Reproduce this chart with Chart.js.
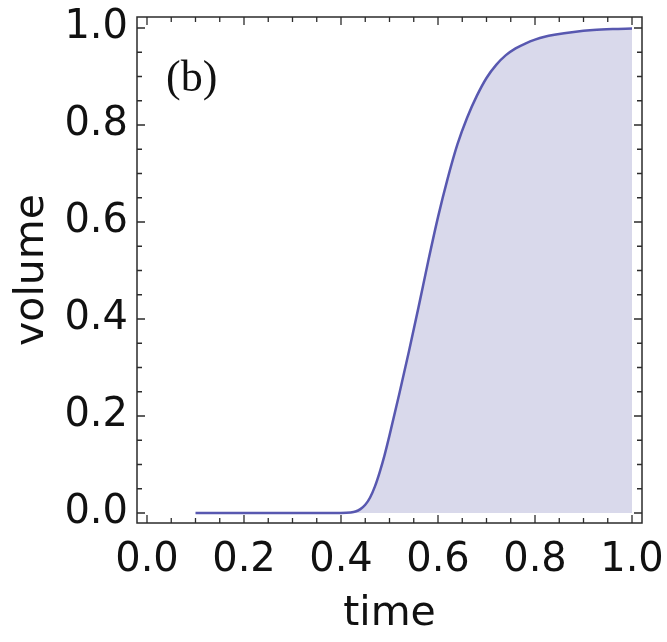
<!DOCTYPE html>
<html>
<head>
<meta charset="utf-8">
<script src="https://cdn.jsdelivr.net/npm/chart.js@4.4.1/dist/chart.umd.min.js"></script>
<style>
  html, body { margin: 0; padding: 0; background: #fff; }
  canvas { display: block; }
</style>
</head>
<body>
<canvas id="chart" width="667" height="642"></canvas>
<script>
// time (x) and volume (y) samples
const timeValues = [0.10, 0.20, 0.30, 0.40, 0.42, 0.43, 0.44, 0.45, 0.46, 0.47, 0.48, 0.49, 0.50, 0.52,
                    0.54, 0.56, 0.58, 0.60, 0.62, 0.64, 0.66, 0.68, 0.70, 0.72, 0.74, 0.76, 0.78, 0.80,
                    0.82, 0.84, 0.88, 0.92, 0.96, 1.00];
const volumeValues = [0, 0, 0, 0, 0.001, 0.003, 0.008, 0.017, 0.032, 0.055, 0.085, 0.120, 0.160, 0.245,
                      0.333, 0.425, 0.520, 0.610, 0.690, 0.760, 0.815, 0.860, 0.897, 0.924, 0.944, 0.958, 0.968, 0.976,
                      0.982, 0.986, 0.992, 0.996, 0.998, 0.999];
const tickLabels = ['0.0', '0.2', '0.4', '0.6', '0.8', '1.0'];
const panelLabel = '(b)';

const FRAME_COLOR = '#2b2b2b';
const TEXT_COLOR = '#111';
const LABEL_FONT = 'DejaVu Sans';

function isMajor(v) {
    return Math.abs(v / 0.2 - Math.round(v / 0.2)) < 1e-6;
}

function labelFor(v) {
    if (!isMajor(v)) return '';
    return tickLabels[Math.round(v / 0.2)] || '';
}

// fixed axis sizes, and no extra room for overhanging labels
function fixSize(prop, size) {
    return (scale) => {
        scale[prop] = size;
        scale.paddingTop = 0;
        scale.paddingBottom = 0;
        scale.paddingLeft = 0;
        scale.paddingRight = 0;
    };
}

// frame with inward ticks on all four sides + panel label
const framePlugin = {
    id: 'frame',
    afterDraw(chart) {
        const { ctx, chartArea: a, scales } = chart;
        ctx.save();
        ctx.strokeStyle = FRAME_COLOR;
        ctx.lineWidth = 1.5;
        ctx.strokeRect(a.left, a.top, a.right - a.left, a.bottom - a.top);

        ctx.lineWidth = 1.3;
        ctx.beginPath();
        scales.x.ticks.forEach(t => {
            const px = scales.x.getPixelForValue(t.value);
            const len = isMajor(t.value) ? 8 : 5;
            ctx.moveTo(px, a.bottom); ctx.lineTo(px, a.bottom - len);
            ctx.moveTo(px, a.top); ctx.lineTo(px, a.top + len);
        });
        scales.y.ticks.forEach(t => {
            const py = scales.y.getPixelForValue(t.value);
            const len = isMajor(t.value) ? 8 : 5;
            ctx.moveTo(a.left, py); ctx.lineTo(a.left + len, py);
            ctx.moveTo(a.right, py); ctx.lineTo(a.right - len, py);
        });
        ctx.stroke();

        ctx.fillStyle = TEXT_COLOR;
        ctx.font = '44px "Liberation Serif"';
        ctx.textBaseline = 'alphabetic';
        ctx.textAlign = 'left';
        ctx.fillText(panelLabel, a.left + 29, 91);
        ctx.restore();
    }
};

const commonTicks = {
    stepSize: 0.05,
    autoSkip: false,
    maxRotation: 0,
    includeBounds: false,
    maxTicksLimit: 100,
    color: TEXT_COLOR,
    font: { family: LABEL_FONT, size: 40 },
    callback: (v) => labelFor(v)
};

const chart = new Chart(document.getElementById('chart'), {
    type: 'line',
    data: {
        datasets: [{
            data: timeValues.map((t, i) => ({ x: t, y: volumeValues[i] })),
            borderColor: '#5858b0',
            borderWidth: 2.5,
            backgroundColor: 'rgb(217,217,235)',
            fill: 'origin',
            pointRadius: 0,
            cubicInterpolationMode: 'monotone'
        }]
    },
    options: {
        responsive: false,
        animation: false,
        layout: { padding: { top: 17, right: 25, left: 0, bottom: 0 } },
        plugins: {
            legend: { display: false },
            tooltip: { enabled: false }
        },
        scales: {
            x: {
                type: 'linear',
                min: -0.0206,
                max: 1.0206,
                grid: { display: false, drawTicks: false },
                border: { display: false },
                ticks: Object.assign({}, commonTicks, { padding: 14 }),
                title: {
                    display: true,
                    text: 'time',
                    color: TEXT_COLOR,
                    font: { family: LABEL_FONT, size: 41 },
                    padding: { top: 0, bottom: 3 }
                },
                afterFit: fixSize('height', 119)
            },
            y: {
                type: 'linear',
                min: -0.0206,
                max: 1.0227,
                grid: { display: false, drawTicks: false },
                border: { display: false },
                ticks: Object.assign({}, commonTicks, { padding: 9 }),
                title: {
                    display: true,
                    text: 'volume',
                    color: TEXT_COLOR,
                    font: { family: LABEL_FONT, size: 41 },
                    padding: { top: 8, bottom: 0 }
                },
                afterFit: fixSize('width', 137)
            }
        }
    },
    plugins: [framePlugin]
});
</script>
</body>
</html>
